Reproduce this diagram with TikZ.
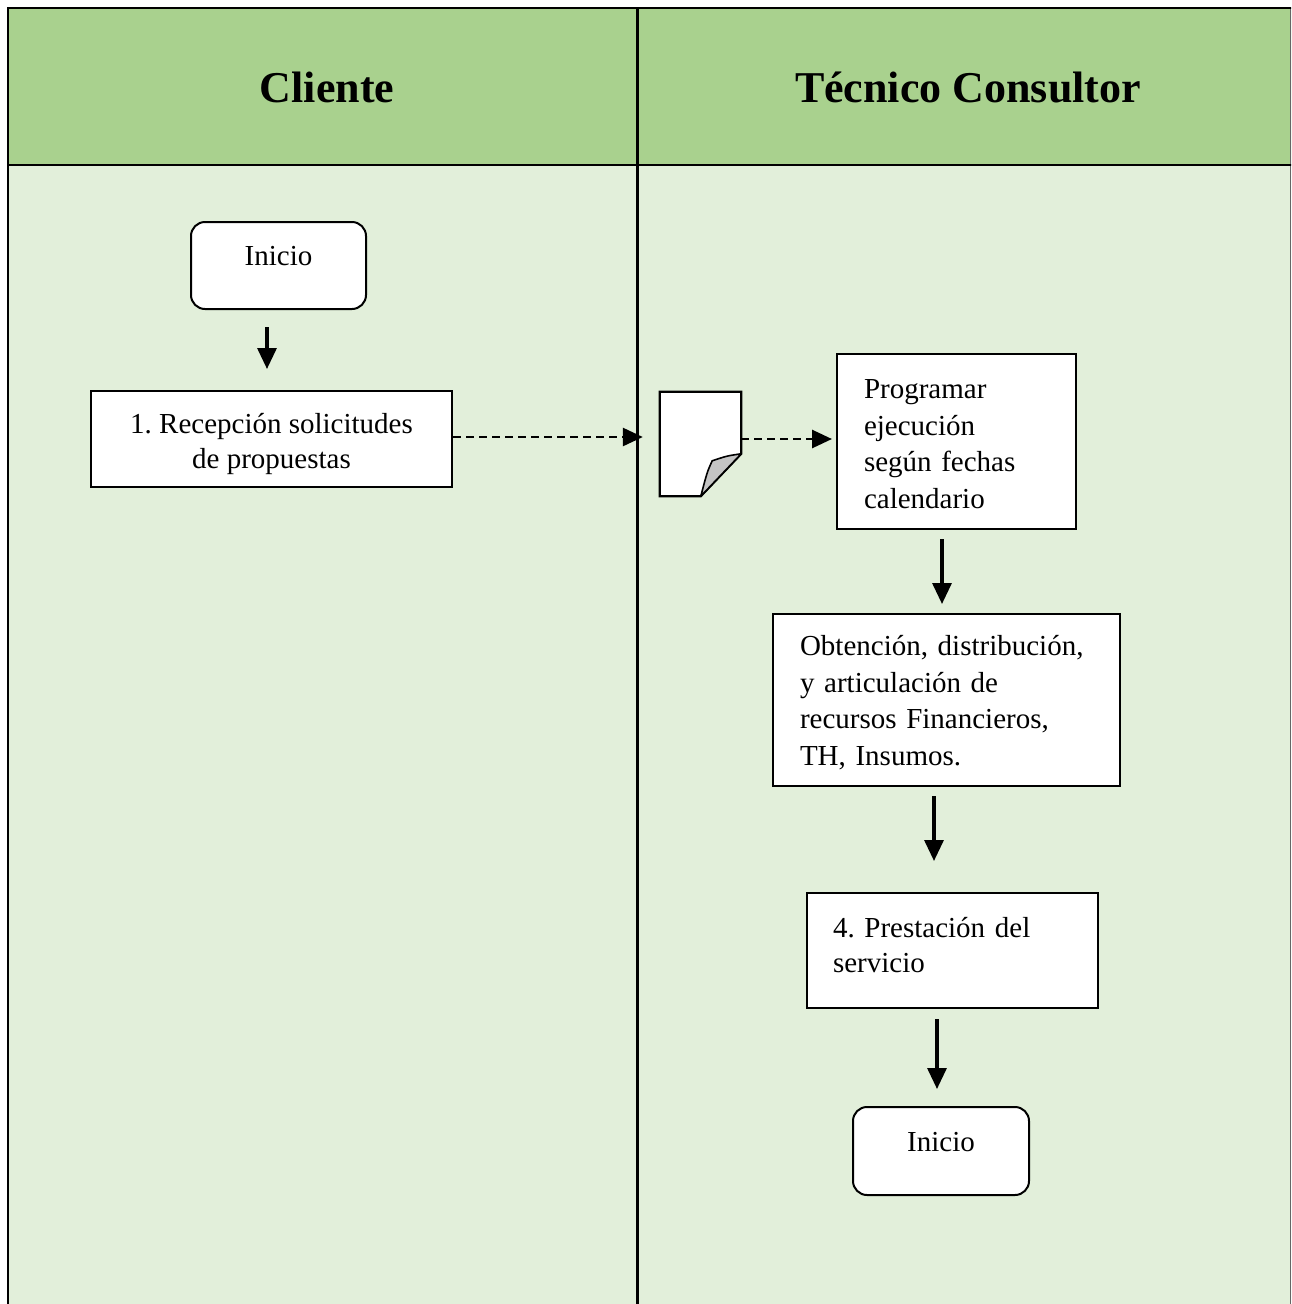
\documentclass[tikz,border=0pt]{standalone}
\usepackage{fontspec}
\setmainfont{Liberation Serif}
\usetikzlibrary{arrows.meta,calc}
\definecolor{hdrgreen}{HTML}{A9D18E}
\definecolor{lanegreen}{HTML}{E2EFDA}
\definecolor{foldgray}{HTML}{C4C4C4}
\frenchspacing

\begin{document}
\begin{tikzpicture}[x=1pt,y=-1pt,
  lane/.style={line width=2.6pt},
  bodyfont/.style={font=\fontsize{29}{36.7}\selectfont},
  stepbox/.style={draw, line width=2pt, fill=white, inner sep=0pt},
  termbox/.style={stepbox, rounded corners=14pt},
  boxtext/.style={bodyfont, inner sep=0pt},
  flow/.style={line width=3.2pt, -{Triangle[length=21pt,width=19pt]}},
  msg/.style={line width=2.8pt, dash pattern=on 8pt off 5pt, -{Triangle[length=20pt,width=18pt]}},
  hdr/.style={font=\fontsize{44}{50}\selectfont\bfseries}
]
\useasboundingbox (0,0) rectangle (1291,1304);
\clip (0,0) rectangle (1291,1304);
\fill[white] (0,0) rectangle (1291,1304);

% swimlane background and frame
\fill[lanegreen] (8,165) rectangle (1296,1310);
\fill[hdrgreen] (8,8) rectangle (1296,165);
\draw[line width=1pt, black!60] (1290.5,8) -- (1290.5,1310);
\draw[lane] (8,1310) -- (8,8) -- (1296,8);
\draw[lane] (8,165) -- (1296,165);
\draw[lane] (637.5,8) -- (637.5,1310);

% lane headers
\node[hdr] (cliente) at (327,87) {Cliente};
\node[hdr] (tecnico) at (968,87) {Técnico Consultor};

% Cliente lane
\node[termbox, minimum width=175pt, minimum height=87pt] (inicio) at (278.5,265.5) {};
\node[boxtext] (inicioTxt) at ($(inicio.center)+(0,-9)$) {Inicio};

\node[stepbox, minimum width=361pt, minimum height=96pt] (recep) at (271.5,439) {};
\node[boxtext, align=center, font=\fontsize{29}{35}\selectfont] (recepTxt) at ($(recep.center)+(0,5)$)
  {1. Recepción solicitudes\\ de propuestas};

% document symbol
\node[minimum width=81pt, minimum height=104pt, inner sep=0pt] (doc) at (700.5,444) {};
\filldraw[fill=white, line width=2.2pt, line join=miter]
  (doc.north west) -- (doc.north east) -- ($(doc.north east)+(0,62)$)
  -- ($(doc.south west)+(41,0)$) -- (doc.south west) -- cycle;
\filldraw[fill=foldgray, line width=1.6pt, line join=round]
  ($(doc.north east)+(0,62)$) .. controls ($(doc.north east)+(-14,64)$) .. ($(doc.north east)+(-29,69)$)
  .. controls ($(doc.north east)+(-34,80)$) .. ($(doc.south west)+(41,0)$) -- cycle;

% Tecnico Consultor lane
\node[stepbox, minimum width=239pt, minimum height=175pt] (prog) at (956.5,441.5) {};
\node[boxtext, text width=185pt, align=left] (progTxt) at ($(prog.center)+(0,2.5)$)
  {Programar\\ ejecución\\ según fechas\\ calendario};

\node[stepbox, minimum width=347pt, minimum height=172pt] (obt) at (946.5,700) {};
\node[boxtext, text width=293pt, align=left] (obtTxt) at ($(obt.center)+(0,2.5)$)
  {Obtención, distribución,\\ y articulación de\\ recursos Financieros,\\ TH, Insumos.};

\node[stepbox, minimum width=291pt, minimum height=115pt] (prest) at (952.5,950.5) {};
\node[boxtext, text width=239pt, align=left, font=\fontsize{29}{35}\selectfont] (prestTxt) at ($(prest.center)+(0,-5)$)
  {4. Prestación del\\ servicio};

\node[termbox, minimum width=176pt, minimum height=88pt] (fin) at (941,1151) {};
\node[boxtext] (finTxt) at ($(fin.center)+(0,-9)$) {Inicio};

% connectors
\draw[flow] ([xshift=-11.5pt,yshift=-17pt]inicio.south) -- ([xshift=-4.5pt,yshift=21pt]recep.north);
\draw[msg, shorten >=17pt] ([yshift=2pt]recep.east) -- ([yshift=2pt]recep.east -| doc.west);
\draw[msg, shorten >=4pt] ([yshift=5pt]doc.east) -- ([yshift=5pt]doc.east -| prog.west);
\draw[flow] ([xshift=-14.5pt,yshift=-9pt]prog.south) -- ([xshift=-4.5pt,yshift=9pt]obt.north);
\draw[flow] ([xshift=-12.5pt,yshift=-9pt]obt.south) -- ([xshift=-18.5pt,yshift=31pt]prest.north);
\draw[flow] ([xshift=-15.5pt,yshift=-10pt]prest.south) -- ([xshift=-4pt,yshift=17pt]fin.north);
\end{tikzpicture}
\end{document}
